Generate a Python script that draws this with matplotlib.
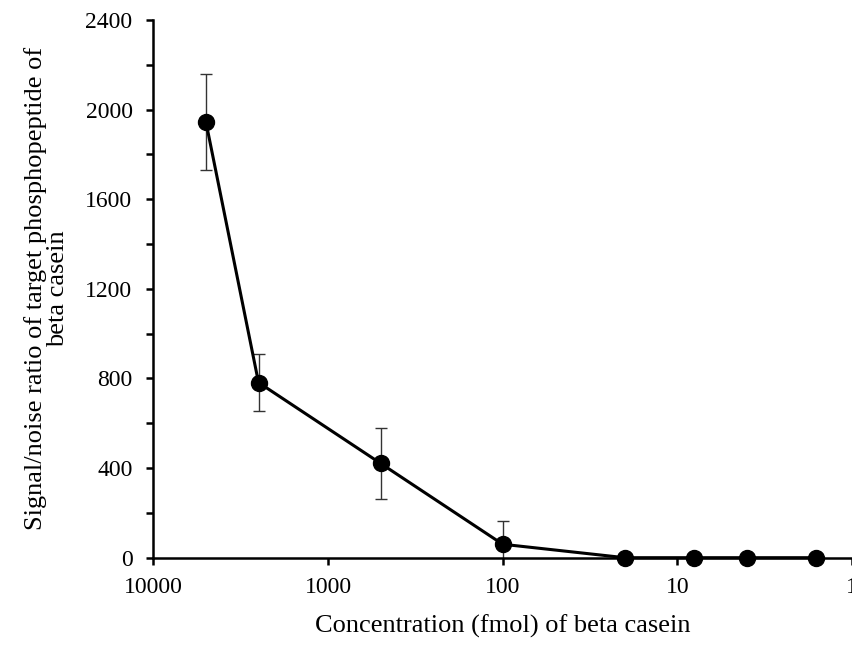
import matplotlib
matplotlib.use("Agg")
import matplotlib.pyplot as plt
from matplotlib.ticker import FixedLocator, MultipleLocator

conc = [5000, 2500, 500, 100, 20, 8, 4, 1.6]
sn = [1945, 782, 421, 60, 0, 0, 0, 0]
err = [215, 125, 160, 105, 0, 0, 0, 0]
xticks = [10000, 1000, 100, 10, 1]
xticklabels = ["10000", "1000", "100", "10", "1"]
yticks = [0, 400, 800, 1200, 1600, 2000, 2400]

plt.rcParams['font.family'] = ['Liberation Serif', 'DejaVu Serif']

fig = plt.figure(figsize=(8.52, 6.46), dpi=100)
ax = fig.add_axes([0.18, 0.1367, 0.82, 0.8323])

ax.errorbar(conc, sn, yerr=err, fmt='none', ecolor='#333333', elinewidth=1.0,
            capsize=4, capthick=1.0, zorder=2)
ax.plot(conc, sn, color='black', lw=2.2, marker='o', markersize=11.5,
        markerfacecolor='black', markeredgecolor='black', zorder=3, clip_on=False)

ax.set_xscale('log')
ax.set_xlim(10000, 1)
ax.set_ylim(0, 2400)
ax.xaxis.set_major_locator(FixedLocator(xticks))
ax.set_xticklabels(xticklabels)
ax.xaxis.set_minor_locator(FixedLocator([]))
ax.set_yticks(yticks)
ax.yaxis.set_minor_locator(MultipleLocator(200))

for s in ['top', 'right']:
    ax.spines[s].set_visible(False)
for s in ['left', 'bottom']:
    ax.spines[s].set_linewidth(1.8)
    ax.spines[s].set_color('black')

ax.tick_params(axis='both', which='both', direction='out', length=5, width=1.8,
               labelsize=17, colors='black')
ax.tick_params(axis='y', pad=10)
ax.tick_params(axis='x', pad=9)

ax.set_xlabel("Concentration (fmol) of beta casein", fontsize=19, labelpad=12)
ax.set_ylabel("Signal/noise ratio of target phosphopeptide of\nbeta casein",
              fontsize=19, labelpad=12, linespacing=1.0)

fig.savefig("out.png", dpi=100)
